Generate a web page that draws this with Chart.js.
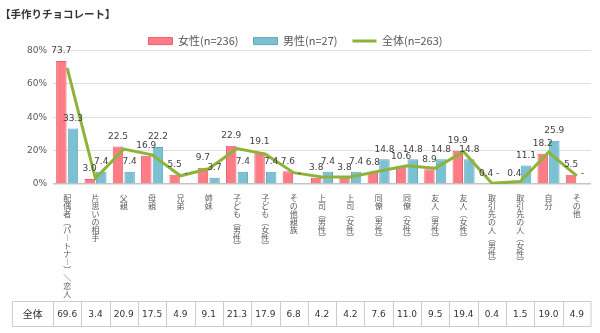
<!DOCTYPE html>
<html>
<head>
<meta charset="utf-8">
<script src="https://cdn.jsdelivr.net/npm/chart.js@4/dist/chart.umd.min.js"></script>
<style>
  html, body { margin: 0; padding: 0; background: #fff; }
  #wrap { width: 600px; height: 333px; position: relative; }
</style>
</head>
<body>
<div id="wrap"><canvas id="c" width="600" height="333"></canvas></div>
<script>
// 手作りチョコレートを贈る相手（複数回答, %）
const categories = [
  '配偶者（パートナー）／恋人', '片思いの相手', '父親', '母親', '兄弟', '姉妹',
  '子ども（男性）', '子ども（女性）', 'その他親族', '上司（男性）', '上司（女性）',
  '同僚（男性）', '同僚（女性）', '友人（男性）', '友人（女性）',
  '取引先の人（男性）', '取引先の人（女性）', '自分', 'その他'
];
const femaleValues = [73.7, 3.0, 22.5, 16.9, 5.5, 9.7, 22.9, 19.1, 7.6, 3.8, 3.8, 6.8, 10.6, 8.9, 19.9, 0.4, 0.4, 18.2, 5.5];
const maleValues   = [33.3, 7.4, 7.4, 22.2, 0, 3.7, 7.4, 7.4, 0, 7.4, 7.4, 14.8, 14.8, 14.8, 14.8, 0, 11.1, 25.9, 0];
const totalValues  = [69.6, 3.4, 20.9, 17.5, 4.9, 9.1, 21.3, 17.9, 6.8, 4.2, 4.2, 7.6, 11.0, 9.5, 19.4, 0.4, 1.5, 19.0, 4.9];
const seriesNames  = ['女性(n=236)', '男性(n=27)', '全体(n=263)'];
const yTicks = [0, 20, 40, 60, 80];
const tableHeader = '全体';

const CJK = '"Noto Sans CJK JP", "Noto Sans", sans-serif';
const NUM = '"DejaVu Sans", Verdana, sans-serif';

// stack the category names vertically, using vertical glyph forms for brackets and dashes
const VERTICAL_FORMS = { '（': '︵', '）': '︶', 'ー': '︱', '／': '＼' };
const toVertical = s => Array.from(s).map(ch => VERTICAL_FORMS[ch] || ch);

// value labels above the bars; "-" for zero
const barLabels = {
  id: 'barLabels',
  afterDatasetsDraw(chart) {
    const ctx = chart.ctx;
    ctx.save();
    ctx.font = '9px ' + NUM;
    ctx.fillStyle = '#404040';
    ctx.textAlign = 'center';
    ctx.textBaseline = 'middle';
    [0, 1].forEach(di => {
      const meta = chart.getDatasetMeta(di);
      const data = chart.data.datasets[di].data;
      meta.data.forEach((bar, i) => {
        const v = data[i];
        ctx.fillText(v === 0 ? '-' : v.toFixed(1), bar.x, bar.y - 10);
      });
    });
    ctx.restore();
  }
};

// single-row table of the totals, aligned to the category columns
const totalTable = {
  id: 'totalTable',
  afterDraw(chart) {
    const { ctx, chartArea } = chart;
    const x = chart.scales.x;
    const top = 301.5, h = 25, left = 12.5;
    const step = (chartArea.right - chartArea.left) / categories.length;
    ctx.save();
    ctx.strokeStyle = '#cccccc';
    ctx.lineWidth = 1;
    ctx.beginPath();
    ctx.rect(left, top, chartArea.right - left, h);
    for (let i = 0; i < categories.length; i++) {
      const bx = Math.round(chartArea.left + i * step) + 0.5;
      ctx.moveTo(bx, top);
      ctx.lineTo(bx, top + h);
    }
    ctx.stroke();
    ctx.fillStyle = '#333';
    ctx.textAlign = 'center';
    ctx.textBaseline = 'middle';
    ctx.font = '10px ' + CJK;
    ctx.fillText(tableHeader, (left + chartArea.left) / 2, top + h / 2);
    ctx.font = '9px ' + NUM;
    totalValues.forEach((v, i) => {
      ctx.fillText(v.toFixed(1), x.getPixelForValue(i), top + h / 2 + 0.5);
    });
    ctx.restore();
  }
};

// fixed legend band height
const legendBand = {
  id: 'legendBand',
  beforeInit(chart) {
    const lg = chart.legend;
    if (!lg) return;
    const fit = lg.fit;
    lg.fit = function () { fit.call(this); this.height = 30; };
  }
};

new Chart(document.getElementById('c'), {
  type: 'bar',
  data: {
    labels: categories.map(toVertical),
    datasets: [
      {
        label: seriesNames[0], data: femaleValues,
        backgroundColor: '#ff7c86', borderColor: '#e2616b', borderWidth: 1,
        pointStyle: 'rect', order: 1,
        categoryPercentage: 0.82, barPercentage: 0.9
      },
      {
        label: seriesNames[1], data: maleValues,
        backgroundColor: '#7cc0d3', borderColor: '#5ea6ba', borderWidth: 1,
        pointStyle: 'rect', order: 2,
        categoryPercentage: 0.82, barPercentage: 0.9
      },
      {
        type: 'line', label: seriesNames[2], data: totalValues,
        borderColor: '#8db33a', backgroundColor: '#8db33a', borderWidth: 3,
        pointRadius: 0, pointHoverRadius: 0, pointStyle: 'line', tension: 0, order: 0
      }
    ]
  },
  options: {
    responsive: false,
    animation: false,
    events: [],
    layout: { padding: { left: 0, right: 9, top: 0, bottom: 0 } },
    plugins: {
      title: {
        display: true, text: '【手作りチョコレート】', align: 'start',
        color: '#333', font: { family: CJK, size: 10.5, weight: 'bold', lineHeight: 1.2 },
        padding: { top: 8, bottom: 0 }
      },
      legend: {
        position: 'top', align: 'center',
        labels: {
          usePointStyle: true, pointStyleWidth: 24, boxHeight: 7,
          padding: 15, color: '#555',
          font: { family: CJK, size: 11 },
          sort: (a, b) => a.datasetIndex - b.datasetIndex
        }
      },
      tooltip: { enabled: false }
    },
    scales: {
      x: {
        grid: { display: false, drawTicks: false },
        border: { display: false },
        ticks: {
          autoSkip: false, maxRotation: 0, minRotation: 0, padding: 10,
          color: '#595959', font: { family: CJK, size: 8, lineHeight: 1 }
        },
        afterFit(scale) { scale.height = 149; }
      },
      y: {
        min: 0, max: 80,
        afterBuildTicks(scale) { scale.ticks = yTicks.map(v => ({ value: v })); },
        grid: {
          drawTicks: false,
          color: ctx => ctx.tick && ctx.tick.value === 0 ? '#c4c4c4' : '#dedede',
          lineWidth: ctx => ctx.tick && ctx.tick.value === 0 ? 1.5 : 1
        },
        border: { display: false },
        ticks: {
          padding: 6, color: '#595959', font: { family: NUM, size: 9 },
          callback: v => v + '%'
        },
        afterFit(scale) { scale.width = 53; }
      }
    }
  },
  plugins: [legendBand, barLabels, totalTable]
});
</script>
</body>
</html>
